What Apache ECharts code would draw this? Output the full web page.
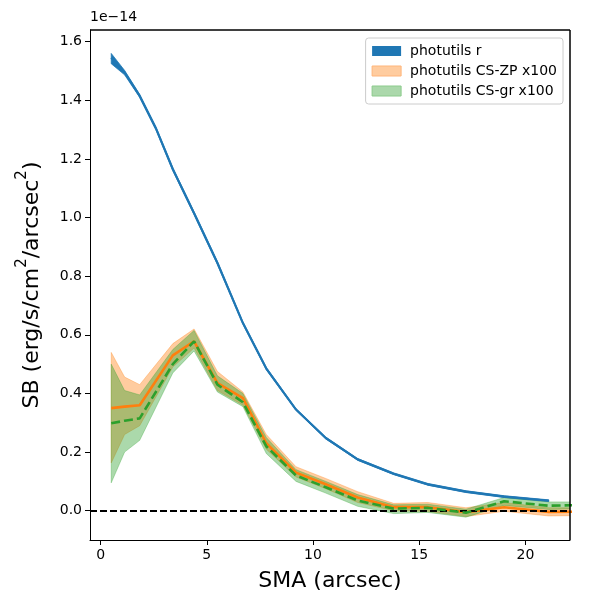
<!DOCTYPE html>
<html>
<head>
<meta charset="UTF-8">
<title>SB profile</title>
<script src="https://cdn.jsdelivr.net/npm/echarts@6.0.0/dist/echarts.min.js"></script>
</head>
<body style="margin:0;background:#fff;">
<div id="chart" style="width:600px;height:600px;"></div>
<script>
// values in units of 1e-14
var blueX = [0.5, 1.13, 1.84, 2.6, 3.4, 4.4, 5.5, 6.7, 7.8, 9.2, 10.6, 12.1, 13.8, 15.4, 17.2, 19.0, 21.1];
var blueMid = [1.545, 1.495, 1.415, 1.305, 1.165, 1.015, 0.845, 0.64, 0.485, 0.345, 0.248, 0.175, 0.126, 0.09, 0.065, 0.048, 0.034];
var blueLo = [1.525, 1.487, 1.41, 1.3, 1.16, 1.01, 0.84, 0.636, 0.481, 0.342, 0.245, 0.172, 0.123, 0.087, 0.062, 0.045, 0.031];
var blueHi = [1.56, 1.502, 1.42, 1.31, 1.17, 1.02, 0.85, 0.644, 0.489, 0.348, 0.251, 0.178, 0.129, 0.093, 0.068, 0.051, 0.037];

var csX = [0.5, 1.13, 1.84, 3.4, 4.4, 5.5, 6.7, 7.8, 9.2, 10.6, 12.1, 13.8, 15.4, 17.2, 19.0, 21.1, 23.2];
var zpMid = [0.35, 0.355, 0.36, 0.53, 0.578, 0.435, 0.384, 0.23, 0.13, 0.09, 0.045, 0.012, 0.012, -0.005, 0.012, -0.004, -0.003];
var zpHi = [0.54, 0.456, 0.43, 0.57, 0.62, 0.475, 0.405, 0.26, 0.15, 0.11, 0.065, 0.025, 0.028, 0.01, 0.028, 0.01, 0.01];
var zpLo = [0.163, 0.26, 0.29, 0.49, 0.555, 0.41, 0.36, 0.21, 0.115, 0.075, 0.028, 0.0, -0.002, -0.02, -0.002, -0.018, -0.016];
var grMid = [0.298, 0.307, 0.315, 0.5, 0.578, 0.43, 0.37, 0.22, 0.12, 0.08, 0.035, 0.007, 0.01, -0.007, 0.032, 0.017, 0.02];
var grHi = [0.5, 0.41, 0.395, 0.55, 0.615, 0.46, 0.4, 0.25, 0.14, 0.1, 0.055, 0.02, 0.022, 0.005, 0.045, 0.03, 0.03];
var grLo = [0.095, 0.2, 0.24, 0.47, 0.545, 0.405, 0.355, 0.195, 0.1, 0.06, 0.015, -0.01, -0.006, -0.022, 0.018, 0.004, 0.008];

var xTicks = [0, 5, 10, 15, 20];
var yTicks = [0, 0.2, 0.4, 0.6, 0.8, 1.0, 1.2, 1.4, 1.6];
var names = ["photutils r", "photutils CS-ZP x100", "photutils CS-gr x100"];

var FONT = "DejaVu Sans";
var chart = echarts.init(document.getElementById("chart"));

function pairs(xs, ys) {
    var out = [];
    for (var i = 0; i < xs.length; i++) out.push([xs[i], ys[i]]);
    return out;
}

// filled band between lo and hi, drawn as one polygon
function band(name, xs, lo, hi, color, opacity) {
    var rows = [];
    for (var i = 0; i < xs.length; i++) rows.push([xs[i], lo[i], hi[i]]);
    return {
        name: name,
        type: "custom",
        clip: true,
        silent: true,
        itemStyle: {color: color},
        encode: {x: 0, y: [1, 2]},
        data: rows,
        renderItem: function (params, api) {
            if (params.dataIndex !== 0) return null;
            var pts = [];
            for (var i = 0; i < xs.length; i++) pts.push(api.coord([xs[i], hi[i]]));
            for (var j = xs.length - 1; j >= 0; j--) pts.push(api.coord([xs[j], lo[j]]));
            return {
                type: "polygon",
                shape: {points: pts},
                style: {fill: color, opacity: opacity, stroke: color, lineWidth: 0.8}
            };
        }
    };
}

function line(xs, ys, color, width, type, z) {
    return {
        type: "line",
        data: pairs(xs, ys),
        showSymbol: false,
        silent: true,
        z: z,
        lineStyle: {color: color, width: width, type: type},
        animation: false
    };
}

var axisText = {color: "#000", fontFamily: FONT, fontSize: 14};

var option = {
    animation: false,
    grid: {left: 90, right: 30, top: 30, bottom: 60},
    legend: {
        data: [
            {name: names[0], itemStyle: {color: "#1f77b4"}},
            {name: names[1], itemStyle: {color: "#ffcc9f", borderColor: "#ffb57a", borderWidth: 1}},
            {name: names[2], itemStyle: {color: "#abd8ab", borderColor: "#8ccb8c", borderWidth: 1}}
        ],
        orient: "vertical",
        right: 37,
        top: 38,
        icon: "rect",
        itemWidth: 29,
        itemHeight: 10,
        itemGap: 6,
        padding: [6, 6, 6, 6],
        backgroundColor: "#fff",
        borderColor: "#cccccc",
        borderWidth: 1,
        borderRadius: 3,
        selectedMode: false,
        textStyle: {color: "#000", fontFamily: FONT, fontSize: 14, padding: [0, 0, 0, 4]}
    },
    xAxis: {
        type: "value",
        min: -0.5,
        max: 22.1,
        name: "SMA (arcsec)",
        nameLocation: "middle",
        nameGap: 30,
        nameTextStyle: {color: "#000", fontFamily: FONT, fontSize: 22},
        splitLine: {show: false},
        axisLine: {onZero: false, lineStyle: {color: "#000", width: 1}},
        axisTick: {show: true, length: 5, customValues: xTicks, lineStyle: {color: "#000"}},
        axisLabel: Object.assign({customValues: xTicks, margin: 8}, axisText)
    },
    yAxis: {
        type: "value",
        min: -0.1,
        max: 1.64,
        name: "{a|SB (erg/s/cm}{s|2}{a|/arcsec}{s|2}{a|)}",
        nameLocation: "middle",
        nameRotate: 90,
        nameGap: 47,
        nameTextStyle: {
            rich: {
                a: {color: "#000", fontFamily: FONT, fontSize: 22, lineHeight: 28, verticalAlign: "bottom"},
                s: {color: "#000", fontFamily: FONT, fontSize: 15, lineHeight: 28, verticalAlign: "top", padding: [0, 0, 10, 0]}
            }
        },
        splitLine: {show: false},
        axisLine: {show: true, onZero: false, lineStyle: {color: "#000", width: 1}},
        axisTick: {show: true, length: 5, customValues: yTicks, lineStyle: {color: "#000"}},
        axisLabel: Object.assign({
            customValues: yTicks, margin: 8,
            formatter: function (v) { return v.toFixed(1); }
        }, axisText)
    },
    graphic: [{
        type: "text", left: 90, top: 10,
        style: {text: "1e\u221214", fill: "#000", font: "14px " + FONT}
    }, {
        type: "rect", shape: {x: 570, y: 30, width: 0, height: 510},
        style: {stroke: "#000", lineWidth: 1, fill: null}, z: 100
    }, {
        type: "rect", shape: {x: 90, y: 30, width: 480, height: 0},
        style: {stroke: "#000", lineWidth: 1, fill: null}, z: 100
    }],
    series: [
        band(names[0], blueX, blueLo, blueHi, "#1f77b4", 1),
        band(names[1], csX, zpLo, zpHi, "#ff7f0e", 0.4),
        band(names[2], csX, grLo, grHi, "#2ca02c", 0.4),
        line(blueX, blueMid, "#1f77b4", 2.2, "solid", 3),
        Object.assign(line(csX, zpMid, "#ff7f0e", 2.6, "solid", 4), {
            markLine: {
                silent: true,
                symbol: "none",
                label: {show: false},
                lineStyle: {color: "#000", width: 2, type: [7, 3]},
                data: [{yAxis: 0}]
            }
        }),
        line(csX, grMid, "#2ca02c", 2.6, [9, 4], 5)
    ]
};
chart.setOption(option);
</script>
</body>
</html>
